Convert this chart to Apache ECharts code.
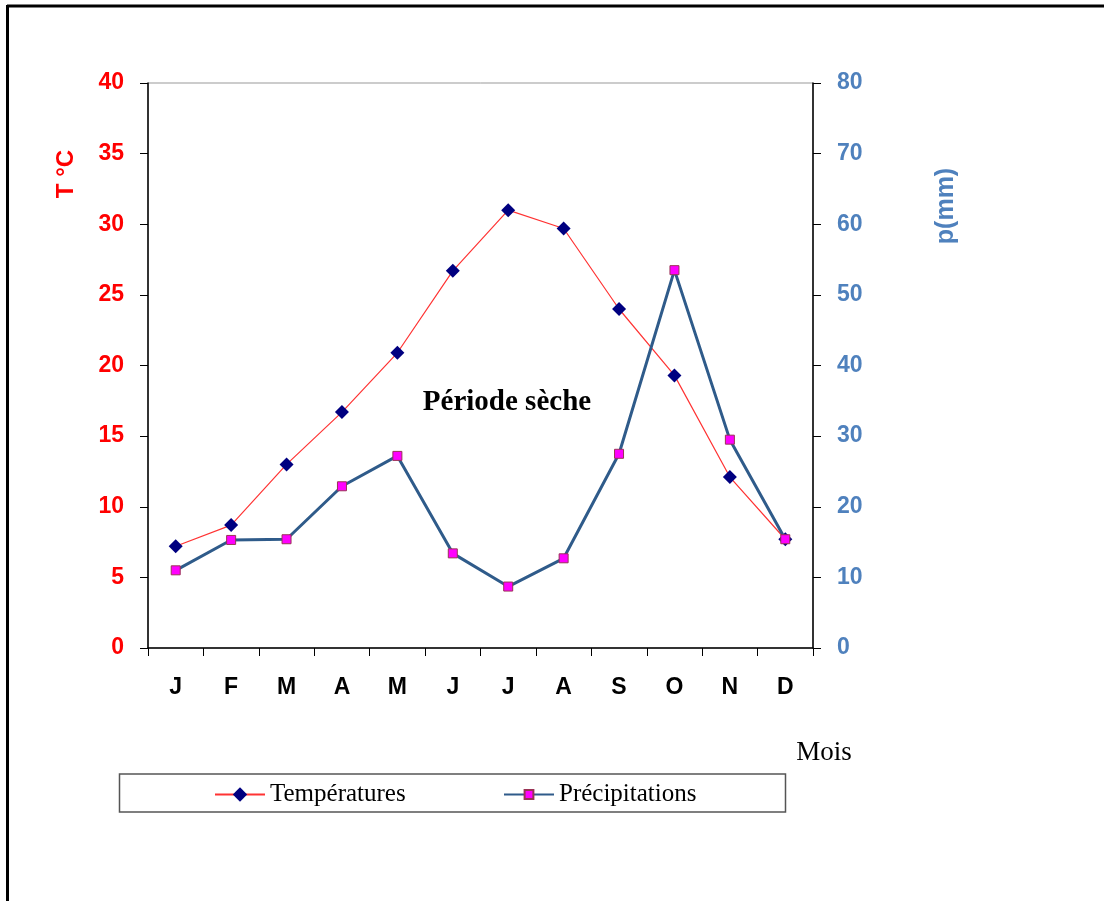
<!DOCTYPE html>
<html>
<head>
<meta charset="utf-8">
<script src="https://cdn.jsdelivr.net/npm/echarts@6/dist/echarts.min.js"></script>
<style>
html,body{margin:0;padding:0;background:#fff;}
#chart{width:1104px;height:901px;}
</style>
</head>
<body>
<div id="chart"></div>
<script>
var months = ['J','F','M','A','M','J','J','A','S','O','N','D'];
var temperatures = [7.2, 8.7, 13.0, 16.7, 20.9, 26.7, 31.0, 29.7, 24.0, 19.3, 12.1, 7.7];
var precipitations = [11.0, 15.3, 15.4, 22.9, 27.2, 13.4, 8.7, 12.7, 27.5, 53.5, 29.5, 15.4];
var tempTicks = {min: 0, max: 40, interval: 5};
var precTicks = {min: 0, max: 80, interval: 10};

var chart = echarts.init(document.getElementById('chart'), null, {renderer: 'canvas'});
var sans = "'Liberation Sans', Arial, sans-serif";
var serif = "'Liberation Serif', 'Times New Roman', serif";

chart.setOption({
  backgroundColor: '#ffffff',
  animation: false,
  grid: {
    left: 148, top: 83, right: 291, bottom: 253,
    containLabel: false, outerBoundsMode: 'none',
    show: true, borderColor: '#999', borderWidth: 1, backgroundColor: 'transparent'
  },
  xAxis: {
    type: 'category',
    data: months,
    boundaryGap: true,
    axisLine: {show: true, lineStyle: {color: '#000', width: 1.5}},
    axisTick: {show: true, length: 8, inside: false, lineStyle: {color: '#000', width: 1}},
    axisLabel: {color: '#000', fontFamily: sans, fontWeight: 'bold', fontSize: 23, margin: 28, interval: 0},
    splitLine: {show: false}
  },
  yAxis: [
    {
      type: 'value', position: 'left',
      min: tempTicks.min, max: tempTicks.max, interval: tempTicks.interval,
      axisLine: {show: true, lineStyle: {color: '#000', width: 1.5}},
      axisTick: {show: true, length: 8, lineStyle: {color: '#000', width: 1}},
      axisLabel: {color: '#ff0000', fontFamily: sans, fontWeight: 'bold', fontSize: 23, margin: 24},
      splitLine: {show: false}
    },
    {
      type: 'value', position: 'right',
      min: precTicks.min, max: precTicks.max, interval: precTicks.interval,
      axisLine: {show: true, lineStyle: {color: '#000', width: 1.5}},
      axisTick: {show: true, length: 8, lineStyle: {color: '#000', width: 1}},
      axisLabel: {color: '#4f81bd', fontFamily: sans, fontWeight: 'bold', fontSize: 23, margin: 24},
      splitLine: {show: false}
    }
  ],
  legend: [
    {
      data: ['Températures'],
      left: 214, top: 782, padding: 0,
      itemWidth: 50, itemHeight: 18,
      textStyle: {fontFamily: serif, fontSize: 25, color: '#000'}
    },
    {
      data: ['Précipitations'],
      left: 503, top: 782, padding: 0,
      itemWidth: 50, itemHeight: 11,
      textStyle: {fontFamily: serif, fontSize: 25, color: '#000'}
    }
  ],
  series: [
    {
      name: 'Températures',
      type: 'line',
      yAxisIndex: 0,
      data: temperatures,
      symbol: 'diamond',
      symbolSize: 14,
      lineStyle: {color: '#ff3333', width: 1.2},
      itemStyle: {color: '#000080'},
      z: 2
    },
    {
      name: 'Précipitations',
      type: 'line',
      yAxisIndex: 1,
      data: precipitations,
      symbol: 'rect',
      symbolSize: 9,
      lineStyle: {color: '#2f5b8a', width: 3},
      itemStyle: {color: '#ff00ff', borderColor: '#993355', borderWidth: 1},
      z: 3
    }
  ],
  graphic: [
    {type: 'line', shape: {x1: 7, y1: 6, x2: 1104, y2: 6}, style: {stroke: '#000', lineWidth: 3}, silent: true},
    {type: 'line', shape: {x1: 7.5, y1: 5, x2: 7.5, y2: 901}, style: {stroke: '#000', lineWidth: 3}, silent: true},
    {type: 'rect', shape: {x: 119.5, y: 774, width: 666, height: 38}, style: {fill: 'none', stroke: '#555', lineWidth: 1.5}, silent: true, z: -1},
    {type: 'text', x: 66, y: 174, rotation: Math.PI / 2,
      style: {text: 'T °C', fill: '#ff0000', font: "bold 24px 'Liberation Sans', Arial, sans-serif", textAlign: 'center', textVerticalAlign: 'middle'}},
    {type: 'text', x: 946, y: 206, rotation: Math.PI / 2,
      style: {text: 'p(mm)', fill: '#4f81bd', font: "bold 25px 'Liberation Sans', Arial, sans-serif", textAlign: 'center', textVerticalAlign: 'middle'}},
    {type: 'text', x: 507, y: 403,
      style: {text: 'Période sèche', fill: '#000', font: "bold 29px 'Liberation Serif', 'Times New Roman', serif", textAlign: 'center', textVerticalAlign: 'middle'}},
    {type: 'text', x: 824, y: 753,
      style: {text: 'Mois', fill: '#000', font: "27px 'Liberation Serif', 'Times New Roman', serif", textAlign: 'center', textVerticalAlign: 'middle'}}
  ]
});
</script>
</body>
</html>
